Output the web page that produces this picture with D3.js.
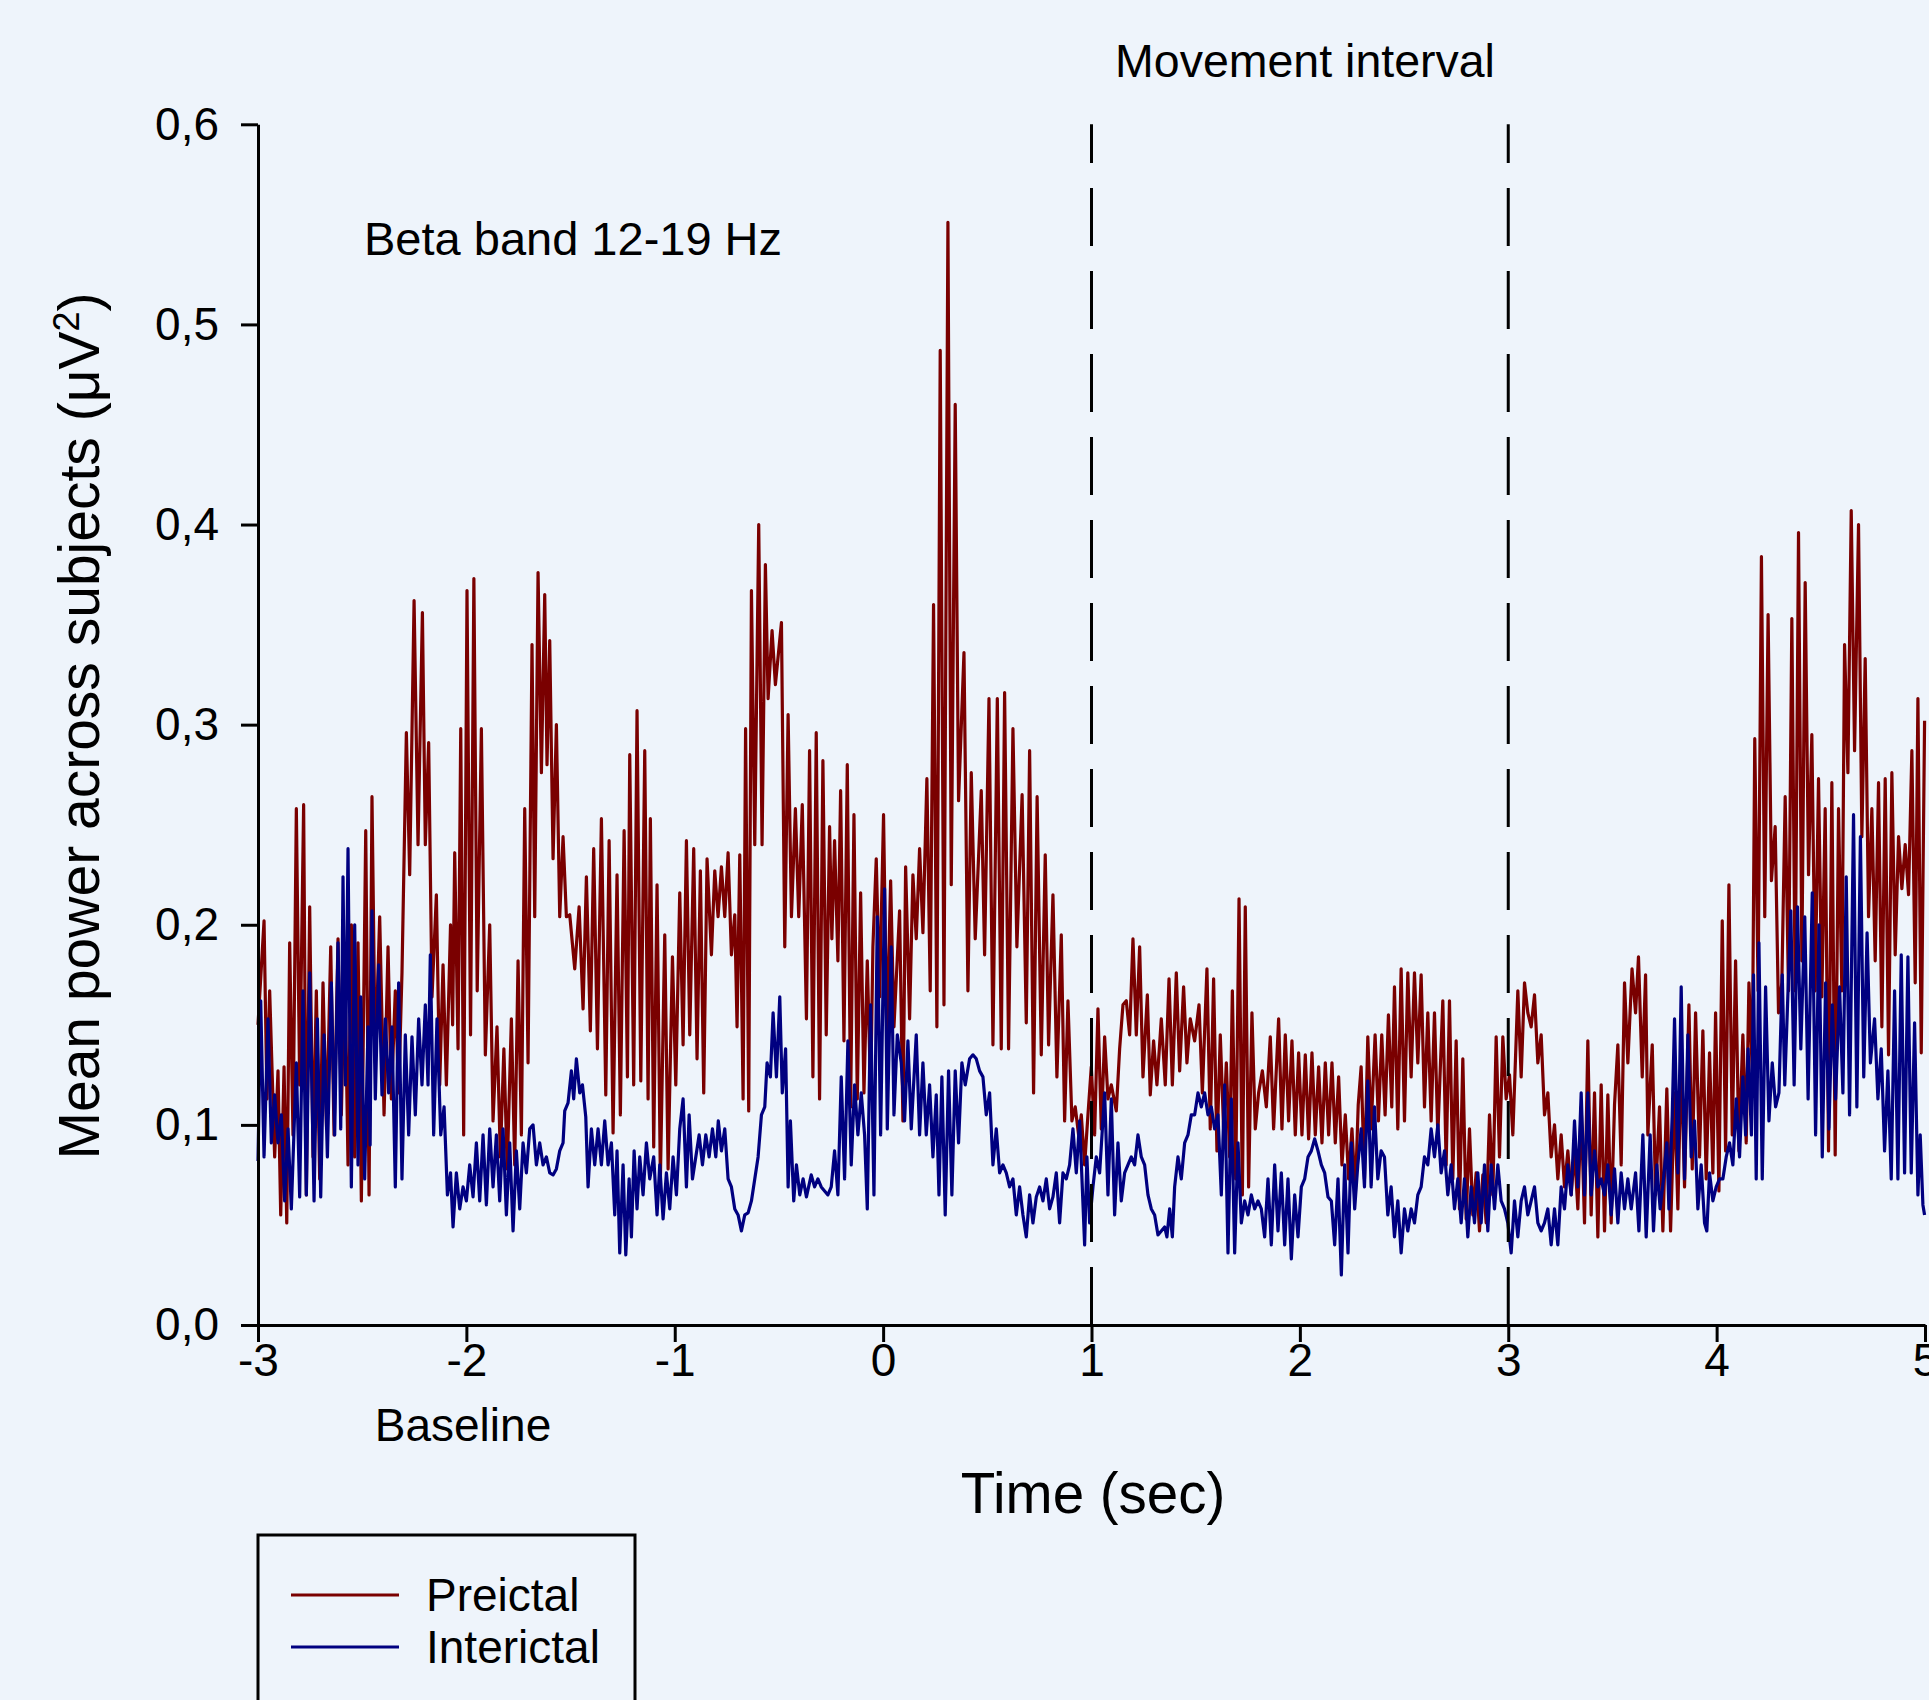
<!DOCTYPE html>
<html><head><meta charset="utf-8">
<script src="https://cdn.jsdelivr.net/npm/d3@7"></script>
<style>
html,body{margin:0;padding:0;background:#eef4fb;}
svg{display:block;}
text{font-family:"Liberation Sans",Arial,sans-serif;fill:#000;}
</style></head><body>
<svg id="chart" width="1929" height="1700"></svg>
<script>
// ---------- data ----------
const xTicks = [-3,-2,-1,0,1,2,3,4,5];
const yTicks = [0,0.1,0.2,0.3,0.4,0.5,0.6];
const movementMarkers = [1,3];
const seriesNames = ["Preictal","Interictal"];
const seriesColors = ["#7a0000","#000080"];

// [time (sec), mean power (µV²)]
const preictal = [
[-3.000,0.150],[-2.971,0.202],[-2.957,0.113],[-2.944,0.167],[-2.920,0.084],[-2.904,0.127],[-2.891,0.055],[-2.875,0.129],[-2.862,0.051],[-2.848,0.191],
[-2.832,0.095],[-2.816,0.258],[-2.800,0.120],[-2.781,0.260],[-2.768,0.065],[-2.752,0.209],[-2.736,0.084],[-2.720,0.167],[-2.704,0.073],[-2.688,0.171],
[-2.671,0.098],[-2.651,0.189],[-2.635,0.095],[-2.616,0.193],[-2.600,0.105],[-2.584,0.185],[-2.568,0.080],[-2.552,0.200],[-2.536,0.084],[-2.520,0.191],
[-2.504,0.062],[-2.483,0.247],[-2.467,0.065],[-2.453,0.264],[-2.437,0.131],[-2.416,0.204],[-2.395,0.105],[-2.376,0.189],[-2.360,0.113],[-2.341,0.167],
[-2.325,0.116],[-2.309,0.176],[-2.288,0.296],[-2.272,0.225],[-2.251,0.362],[-2.232,0.240],[-2.211,0.356],[-2.197,0.240],[-2.181,0.291],[-2.165,0.164],
[-2.144,0.215],[-2.128,0.120],[-2.112,0.180],[-2.096,0.120],[-2.076,0.200],[-2.066,0.150],[-2.056,0.236],[-2.040,0.138],[-2.027,0.298],[-2.013,0.095],
[-1.997,0.367],[-1.980,0.145],[-1.964,0.373],[-1.948,0.167],[-1.928,0.298],[-1.909,0.135],[-1.888,0.200],[-1.872,0.102],[-1.853,0.149],[-1.837,0.084],
[-1.820,0.138],[-1.804,0.078],[-1.784,0.153],[-1.768,0.080],[-1.752,0.182],[-1.736,0.095],[-1.720,0.258],[-1.704,0.131],[-1.685,0.340],[-1.672,0.204],
[-1.656,0.376],[-1.640,0.276],[-1.624,0.365],[-1.613,0.280],[-1.600,0.342],[-1.584,0.233],[-1.568,0.300],[-1.552,0.204],[-1.536,0.244],[-1.520,0.204],
[-1.504,0.205],[-1.480,0.178],[-1.459,0.209],[-1.440,0.158],[-1.424,0.224],[-1.405,0.147],[-1.389,0.238],[-1.371,0.138],[-1.352,0.253],[-1.331,0.115],
[-1.315,0.242],[-1.296,0.096],[-1.277,0.225],[-1.261,0.105],[-1.243,0.247],[-1.227,0.124],[-1.216,0.285],[-1.197,0.120],[-1.181,0.307],[-1.163,0.122],
[-1.144,0.287],[-1.128,0.113],[-1.117,0.253],[-1.101,0.089],[-1.085,0.220],[-1.069,0.073],[-1.048,0.195],[-1.032,0.078],[-1.011,0.184],[-0.995,0.120],
[-0.976,0.216],[-0.960,0.140],[-0.944,0.242],[-0.928,0.145],[-0.909,0.238],[-0.893,0.133],[-0.877,0.227],[-0.861,0.116],[-0.845,0.233],[-0.824,0.185],
[-0.808,0.227],[-0.792,0.204],[-0.776,0.229],[-0.760,0.204],[-0.744,0.236],[-0.728,0.185],[-0.712,0.205],[-0.701,0.149],[-0.688,0.235],[-0.672,0.113],
[-0.660,0.298],[-0.645,0.107],[-0.632,0.367],[-0.616,0.240],[-0.597,0.400],[-0.581,0.240],[-0.565,0.380],[-0.552,0.313],[-0.533,0.347],[-0.517,0.320],
[-0.488,0.351],[-0.472,0.189],[-0.456,0.305],[-0.440,0.204],[-0.421,0.258],[-0.405,0.204],[-0.388,0.260],[-0.368,0.153],[-0.353,0.287],[-0.337,0.124],
[-0.321,0.296],[-0.305,0.113],[-0.289,0.282],[-0.273,0.145],[-0.257,0.249],[-0.246,0.193],[-0.233,0.242],[-0.217,0.182],[-0.204,0.267],[-0.188,0.142],
[-0.172,0.280],[-0.156,0.109],[-0.140,0.255],[-0.124,0.113],[-0.108,0.216],[-0.092,0.116],[-0.076,0.182],[-0.060,0.116],[-0.049,0.189],[-0.033,0.233],
[-0.017,0.164],[0.002,0.255],[0.018,0.142],[0.036,0.222],[0.052,0.149],[0.079,0.207],[0.095,0.102],[0.108,0.229],[0.127,0.153],[0.143,0.225],
[0.159,0.193],[0.175,0.238],[0.191,0.196],[0.210,0.273],[0.226,0.167],[0.242,0.360],[0.258,0.149],[0.274,0.487],[0.292,0.160],[0.311,0.551],
[0.327,0.220],[0.346,0.460],[0.362,0.262],[0.388,0.336],[0.407,0.167],[0.423,0.276],[0.442,0.193],[0.471,0.267],[0.487,0.185],[0.508,0.313],
[0.527,0.140],[0.548,0.313],[0.567,0.138],[0.583,0.316],[0.602,0.138],[0.623,0.298],[0.642,0.189],[0.667,0.265],[0.687,0.151],[0.703,0.287],
[0.722,0.116],[0.739,0.264],[0.759,0.135],[0.778,0.235],[0.794,0.140],[0.815,0.215],[0.834,0.124],[0.855,0.195],[0.871,0.102],[0.887,0.162],
[0.906,0.102],[0.922,0.109],[0.938,0.095],[0.951,0.105],[0.967,0.080],[0.983,0.105],[0.999,0.129],[1.015,0.095],[1.031,0.158],[1.047,0.098],
[1.063,0.144],[1.079,0.113],[1.095,0.120],[1.119,0.107],[1.135,0.138],[1.151,0.160],[1.167,0.162],[1.183,0.145],[1.199,0.193],[1.215,0.145],
[1.231,0.189],[1.247,0.124],[1.268,0.165],[1.282,0.115],[1.298,0.142],[1.314,0.120],[1.335,0.153],[1.354,0.120],[1.372,0.173],[1.388,0.120],
[1.407,0.176],[1.423,0.127],[1.442,0.169],[1.458,0.131],[1.474,0.153],[1.495,0.142],[1.516,0.160],[1.532,0.116],[1.554,0.178],[1.570,0.098],
[1.586,0.173],[1.602,0.087],[1.618,0.145],[1.634,0.098],[1.647,0.131],[1.663,0.084],[1.676,0.167],[1.692,0.073],[1.708,0.213],[1.724,0.065],
[1.738,0.209],[1.754,0.069],[1.770,0.156],[1.786,0.098],[1.802,0.116],[1.820,0.127],[1.839,0.109],[1.858,0.144],[1.874,0.098],[1.898,0.153],
[1.914,0.098],[1.930,0.145],[1.946,0.102],[1.962,0.142],[1.978,0.095],[1.994,0.136],[2.010,0.095],[2.026,0.135],[2.042,0.093],[2.058,0.136],
[2.074,0.095],[2.090,0.129],[2.106,0.091],[2.122,0.131],[2.138,0.095],[2.154,0.131],[2.170,0.091],[2.186,0.124],[2.202,0.080],[2.218,0.105],
[2.234,0.073],[2.250,0.098],[2.266,0.065],[2.280,0.110],[2.294,0.129],[2.310,0.073],[2.326,0.144],[2.342,0.098],[2.361,0.145],[2.377,0.102],
[2.393,0.145],[2.409,0.105],[2.425,0.155],[2.441,0.109],[2.454,0.169],[2.470,0.098],[2.486,0.178],[2.502,0.102],[2.518,0.176],[2.534,0.124],
[2.550,0.176],[2.566,0.131],[2.582,0.175],[2.598,0.109],[2.614,0.156],[2.630,0.102],[2.646,0.156],[2.662,0.095],[2.686,0.162],[2.702,0.080],
[2.718,0.162],[2.734,0.073],[2.750,0.142],[2.766,0.058],[2.782,0.133],[2.798,0.053],[2.814,0.098],[2.830,0.055],[2.846,0.076],[2.862,0.047],
[2.878,0.075],[2.894,0.051],[2.910,0.105],[2.926,0.065],[2.942,0.144],[2.958,0.084],[2.974,0.144],[2.990,0.113],[3.006,0.125],[3.022,0.095],
[3.046,0.167],[3.062,0.124],[3.078,0.171],[3.094,0.156],[3.110,0.149],[3.126,0.165],[3.142,0.131],[3.158,0.145],[3.174,0.105],[3.190,0.116],
[3.206,0.084],[3.222,0.100],[3.238,0.073],[3.254,0.095],[3.270,0.069],[3.286,0.087],[3.302,0.065],[3.318,0.087],[3.334,0.058],[3.350,0.109],
[3.366,0.051],[3.382,0.142],[3.398,0.055],[3.414,0.116],[3.430,0.044],[3.446,0.120],[3.462,0.047],[3.478,0.115],[3.494,0.051],[3.510,0.110],
[3.526,0.140],[3.542,0.080],[3.558,0.171],[3.574,0.131],[3.594,0.178],[3.611,0.156],[3.625,0.184],[3.643,0.124],[3.659,0.175],[3.670,0.095],
[3.691,0.140],[3.707,0.065],[3.726,0.109],[3.742,0.047],[3.761,0.118],[3.779,0.047],[3.798,0.116],[3.814,0.058],[3.830,0.135],[3.846,0.069],
[3.867,0.160],[3.883,0.078],[3.899,0.156],[3.918,0.084],[3.934,0.147],[3.950,0.073],[3.966,0.136],[3.982,0.076],[3.995,0.156],[4.011,0.067],
[4.027,0.202],[4.043,0.087],[4.059,0.220],[4.075,0.095],[4.091,0.182],[4.107,0.087],[4.126,0.145],[4.142,0.091],[4.155,0.171],[4.171,0.127],
[4.183,0.293],[4.199,0.167],[4.215,0.384],[4.231,0.204],[4.247,0.355],[4.263,0.222],[4.281,0.249],[4.297,0.156],[4.313,0.171],[4.329,0.264],
[4.345,0.167],[4.361,0.353],[4.377,0.167],[4.393,0.396],[4.409,0.182],[4.425,0.371],[4.441,0.225],[4.457,0.295],[4.473,0.167],[4.489,0.273],
[4.505,0.164],[4.521,0.258],[4.537,0.087],[4.553,0.271],[4.569,0.085],[4.585,0.258],[4.601,0.167],[4.614,0.340],[4.630,0.276],[4.646,0.407],
[4.662,0.287],[4.681,0.400],[4.697,0.244],[4.713,0.333],[4.729,0.204],[4.745,0.258],[4.761,0.182],[4.777,0.271],[4.793,0.149],[4.809,0.273],
[4.825,0.135],[4.841,0.276],[4.857,0.185],[4.873,0.244],[4.889,0.218],[4.905,0.240],[4.921,0.215],[4.937,0.287],[4.953,0.171],[4.966,0.313],
[4.982,0.136],[4.998,0.302]
];

const interictal = [
[-3.000,0.082],[-2.987,0.162],[-2.971,0.084],[-2.952,0.153],[-2.936,0.091],[-2.920,0.115],[-2.904,0.091],[-2.888,0.105],[-2.872,0.062],[-2.856,0.098],
[-2.840,0.058],[-2.816,0.131],[-2.800,0.064],[-2.784,0.167],[-2.768,0.065],[-2.752,0.176],[-2.731,0.062],[-2.715,0.153],[-2.699,0.064],[-2.683,0.145],
[-2.667,0.084],[-2.648,0.171],[-2.632,0.095],[-2.616,0.191],[-2.603,0.098],[-2.592,0.224],[-2.581,0.120],[-2.568,0.238],[-2.552,0.069],[-2.536,0.200],
[-2.520,0.080],[-2.507,0.164],[-2.488,0.073],[-2.472,0.149],[-2.462,0.090],[-2.453,0.207],[-2.437,0.113],[-2.421,0.180],[-2.405,0.115],[-2.389,0.153],
[-2.373,0.116],[-2.357,0.149],[-2.341,0.069],[-2.325,0.171],[-2.309,0.073],[-2.293,0.145],[-2.277,0.095],[-2.261,0.144],[-2.245,0.105],[-2.229,0.153],
[-2.213,0.120],[-2.197,0.160],[-2.184,0.120],[-2.173,0.185],[-2.157,0.095],[-2.141,0.153],[-2.123,0.095],[-2.107,0.109],[-2.091,0.065],[-2.076,0.076],
[-2.064,0.049],[-2.048,0.076],[-2.032,0.058],[-2.016,0.069],[-2.000,0.062],[-1.984,0.080],[-1.968,0.064],[-1.952,0.091],[-1.936,0.062],[-1.920,0.095],
[-1.904,0.060],[-1.888,0.098],[-1.872,0.069],[-1.856,0.095],[-1.840,0.062],[-1.824,0.098],[-1.808,0.055],[-1.792,0.091],[-1.776,0.047],[-1.760,0.087],
[-1.744,0.058],[-1.728,0.091],[-1.712,0.076],[-1.696,0.098],[-1.680,0.100],[-1.664,0.080],[-1.648,0.091],[-1.632,0.080],[-1.616,0.084],[-1.600,0.076],
[-1.584,0.075],[-1.568,0.078],[-1.552,0.087],[-1.536,0.091],[-1.528,0.107],[-1.512,0.111],[-1.496,0.127],[-1.485,0.113],[-1.472,0.133],[-1.456,0.116],
[-1.443,0.120],[-1.427,0.104],[-1.416,0.069],[-1.400,0.098],[-1.384,0.080],[-1.368,0.098],[-1.352,0.080],[-1.336,0.102],[-1.320,0.080],[-1.304,0.091],
[-1.288,0.055],[-1.277,0.087],[-1.264,0.036],[-1.248,0.080],[-1.235,0.035],[-1.219,0.073],[-1.208,0.044],[-1.195,0.087],[-1.181,0.058],[-1.168,0.084],
[-1.152,0.065],[-1.136,0.091],[-1.120,0.073],[-1.101,0.084],[-1.085,0.055],[-1.072,0.080],[-1.056,0.053],[-1.040,0.076],[-1.024,0.058],[-1.008,0.084],
[-0.992,0.065],[-0.976,0.098],[-0.960,0.113],[-0.944,0.069],[-0.931,0.105],[-0.915,0.073],[-0.899,0.084],[-0.883,0.095],[-0.867,0.080],[-0.851,0.095],
[-0.835,0.084],[-0.819,0.098],[-0.803,0.084],[-0.791,0.102],[-0.776,0.087],[-0.760,0.098],[-0.744,0.073],[-0.728,0.069],[-0.712,0.058],[-0.696,0.055],
[-0.680,0.047],[-0.664,0.055],[-0.648,0.056],[-0.632,0.062],[-0.616,0.073],[-0.600,0.084],[-0.584,0.105],[-0.568,0.109],[-0.557,0.131],[-0.541,0.124],
[-0.528,0.156],[-0.512,0.124],[-0.496,0.164],[-0.484,0.116],[-0.468,0.138],[-0.456,0.069],[-0.445,0.102],[-0.429,0.062],[-0.416,0.080],[-0.400,0.065],
[-0.384,0.073],[-0.368,0.064],[-0.345,0.075],[-0.329,0.069],[-0.313,0.073],[-0.297,0.069],[-0.281,0.067],[-0.265,0.065],[-0.249,0.069],[-0.233,0.087],
[-0.217,0.065],[-0.201,0.124],[-0.185,0.073],[-0.169,0.142],[-0.153,0.080],[-0.137,0.120],[-0.121,0.095],[-0.105,0.116],[-0.089,0.095],[-0.076,0.058],
[-0.060,0.160],[-0.044,0.065],[-0.028,0.204],[-0.012,0.095],[0.007,0.218],[0.020,0.098],[0.039,0.189],[0.052,0.105],[0.068,0.145],[0.087,0.131],
[0.103,0.102],[0.119,0.142],[0.135,0.098],[0.159,0.145],[0.175,0.095],[0.191,0.131],[0.207,0.095],[0.223,0.120],[0.239,0.084],[0.255,0.115],
[0.268,0.065],[0.282,0.124],[0.298,0.055],[0.314,0.127],[0.330,0.065],[0.346,0.127],[0.362,0.091],[0.378,0.131],[0.394,0.120],[0.415,0.133],
[0.431,0.135],[0.447,0.133],[0.463,0.127],[0.479,0.124],[0.495,0.105],[0.511,0.116],[0.527,0.080],[0.543,0.098],[0.559,0.076],[0.575,0.080],
[0.591,0.076],[0.607,0.069],[0.623,0.073],[0.639,0.055],[0.655,0.069],[0.671,0.055],[0.687,0.044],[0.703,0.065],[0.719,0.051],[0.735,0.064],
[0.751,0.069],[0.767,0.062],[0.783,0.073],[0.799,0.058],[0.815,0.064],[0.831,0.076],[0.847,0.051],[0.863,0.076],[0.879,0.073],[0.895,0.080],
[0.911,0.098],[0.927,0.076],[0.943,0.102],[0.967,0.040],[0.978,0.084],[0.991,0.051],[1.007,0.069],[1.023,0.084],[1.039,0.076],[1.063,0.116],
[1.079,0.065],[1.095,0.113],[1.111,0.055],[1.127,0.091],[1.143,0.062],[1.159,0.076],[1.175,0.080],[1.191,0.084],[1.207,0.080],[1.223,0.095],
[1.239,0.084],[1.255,0.080],[1.271,0.065],[1.287,0.058],[1.303,0.055],[1.319,0.045],[1.335,0.047],[1.351,0.049],[1.362,0.044],[1.375,0.058],
[1.388,0.044],[1.399,0.069],[1.415,0.084],[1.431,0.073],[1.447,0.091],[1.463,0.095],[1.479,0.105],[1.495,0.105],[1.511,0.116],[1.527,0.109],
[1.543,0.116],[1.559,0.105],[1.575,0.109],[1.591,0.098],[1.607,0.105],[1.623,0.065],[1.639,0.120],[1.655,0.036],[1.671,0.113],[1.687,0.036],
[1.703,0.091],[1.719,0.051],[1.735,0.062],[1.751,0.055],[1.767,0.065],[1.783,0.058],[1.799,0.062],[1.815,0.058],[1.831,0.044],[1.847,0.073],
[1.863,0.040],[1.879,0.080],[1.895,0.047],[1.911,0.076],[1.927,0.040],[1.943,0.073],[1.959,0.033],[1.975,0.065],[1.991,0.044],[2.007,0.069],
[2.023,0.073],[2.039,0.084],[2.055,0.087],[2.071,0.093],[2.087,0.087],[2.103,0.080],[2.119,0.076],[2.135,0.064],[2.151,0.062],[2.167,0.040],
[2.183,0.073],[2.199,0.025],[2.215,0.080],[2.231,0.036],[2.247,0.091],[2.263,0.058],[2.278,0.080],[2.294,0.098],[2.310,0.069],[2.326,0.122],
[2.342,0.069],[2.358,0.109],[2.374,0.073],[2.390,0.087],[2.406,0.084],[2.422,0.055],[2.438,0.069],[2.454,0.044],[2.470,0.062],[2.486,0.036],
[2.502,0.058],[2.518,0.047],[2.534,0.058],[2.550,0.051],[2.566,0.065],[2.582,0.069],[2.598,0.084],[2.614,0.080],[2.630,0.098],[2.646,0.084],
[2.662,0.100],[2.678,0.076],[2.694,0.087],[2.710,0.065],[2.726,0.080],[2.742,0.058],[2.758,0.073],[2.774,0.051],[2.790,0.073],[2.806,0.044],
[2.822,0.069],[2.838,0.051],[2.854,0.076],[2.870,0.051],[2.886,0.080],[2.902,0.047],[2.918,0.080],[2.934,0.058],[2.950,0.080],[2.966,0.062],
[2.982,0.058],[2.998,0.051],[3.014,0.036],[3.030,0.062],[3.046,0.044],[3.062,0.062],[3.078,0.069],[3.094,0.055],[3.110,0.062],[3.126,0.069],
[3.142,0.051],[3.158,0.047],[3.174,0.051],[3.190,0.058],[3.206,0.040],[3.222,0.058],[3.238,0.040],[3.254,0.069],[3.270,0.058],[3.286,0.080],
[3.302,0.065],[3.318,0.102],[3.334,0.069],[3.350,0.116],[3.366,0.065],[3.382,0.116],[3.398,0.065],[3.414,0.087],[3.430,0.069],[3.446,0.073],
[3.462,0.065],[3.478,0.080],[3.494,0.055],[3.510,0.078],[3.526,0.051],[3.542,0.076],[3.558,0.058],[3.574,0.073],[3.590,0.058],[3.611,0.076],
[3.627,0.047],[3.646,0.095],[3.662,0.044],[3.681,0.095],[3.697,0.047],[3.713,0.080],[3.729,0.058],[3.745,0.073],[3.761,0.091],[3.771,0.058],
[3.787,0.105],[3.798,0.153],[3.814,0.076],[3.830,0.169],[3.846,0.073],[3.862,0.145],[3.878,0.084],[3.894,0.102],[3.910,0.058],[3.926,0.080],
[3.942,0.051],[3.953,0.047],[3.966,0.076],[3.982,0.062],[3.998,0.069],[4.014,0.073],[4.030,0.073],[4.046,0.084],[4.062,0.091],[4.078,0.080],
[4.094,0.113],[4.110,0.084],[4.126,0.124],[4.139,0.095],[4.151,0.138],[4.167,0.095],[4.177,0.175],[4.190,0.073],[4.203,0.191],[4.219,0.073],
[4.235,0.169],[4.251,0.102],[4.267,0.131],[4.283,0.109],[4.299,0.116],[4.315,0.175],[4.327,0.120],[4.356,0.207],[4.372,0.120],[4.388,0.209],
[4.404,0.138],[4.423,0.204],[4.439,0.113],[4.459,0.216],[4.475,0.095],[4.491,0.200],[4.507,0.084],[4.523,0.171],[4.539,0.098],[4.555,0.160],
[4.571,0.113],[4.590,0.169],[4.606,0.116],[4.622,0.224],[4.638,0.105],[4.657,0.255],[4.673,0.109],[4.690,0.244],[4.706,0.124],[4.722,0.196],
[4.738,0.131],[4.758,0.153],[4.774,0.113],[4.790,0.138],[4.806,0.087],[4.822,0.127],[4.838,0.073],[4.854,0.167],[4.870,0.073],[4.886,0.185],
[4.902,0.076],[4.918,0.184],[4.934,0.076],[4.950,0.151],[4.966,0.065],[4.977,0.095],[4.990,0.060],[4.998,0.055]
];

// ---------- drawing ----------
const svg = d3.select("#chart");
const x = d3.scaleLinear().domain([-3,5]).range([258,1925]);
const y = d3.scaleLinear().domain([0,0.6]).range([1325,124.3]);

const fmtY = d => d3.format(".1f")(d).replace(".", ",");
const fmtX = d => String(d);

// series lines (preictal first, interictal on top)
const line = d3.line().x(d => x(d[0])).y(d => y(d[1]));
[preictal, interictal].forEach((s, i) => {
  svg.append("path").datum(s)
    .attr("d", line)
    .attr("fill", "none")
    .attr("stroke", seriesColors[i])
    .attr("stroke-width", 3.2)
    .attr("stroke-linejoin", "round");
});

// dashed movement-interval markers (drawn from bottom to top)
svg.selectAll(".marker").data(movementMarkers).enter().append("line")
  .attr("class", "marker")
  .attr("x1", d => x(d)).attr("x2", d => x(d))
  .attr("y1", y(0)).attr("y2", y(0.6))
  .attr("stroke", "#000").attr("stroke-width", 3)
  .attr("stroke-dasharray", "58,25");

// axes
const xAxis = d3.axisBottom(x).tickValues(xTicks).tickFormat(fmtX)
  .tickSize(17).tickSizeOuter(0).tickPadding(1);
const yAxis = d3.axisLeft(y).tickValues(yTicks).tickFormat(fmtY)
  .tickSize(17).tickSizeOuter(0).tickPadding(22);

const gx = svg.append("g").attr("transform", `translate(0,${y(0)})`).call(xAxis);
const gy = svg.append("g").attr("transform", `translate(${x(-3)},0)`).call(yAxis);
[gx, gy].forEach(g => {
  g.select(".domain").attr("stroke", "#000").attr("stroke-width", 3);
  g.selectAll(".tick line").attr("stroke", "#000").attr("stroke-width", 3);
  g.selectAll(".tick text").attr("fill", "#000")
    .style("font-family", '"Liberation Sans", Arial, sans-serif')
    .style("font-size", "46px");
});

// annotations
const txt = (t, xx, yy, size, anchor) => svg.append("text")
  .attr("x", xx).attr("y", yy).attr("text-anchor", anchor)
  .style("font-size", size + "px").text(t);

txt("Movement interval", 1305, 77, 46.5, "middle");
txt("Beta band 12-19 Hz", 364, 255, 47, "start");
txt("Baseline", 463, 1441, 46, "middle");
txt("Time (sec)", 1093, 1513, 56.5, "middle");

// y-axis title with superscript
const yt = svg.append("text")
  .attr("transform", "translate(99,726) rotate(-90)")
  .attr("text-anchor", "middle")
  .style("font-size", "57px");
yt.append("tspan").text("Mean power across subjects (\u03BCV");
yt.append("tspan").attr("dy", -20).style("font-size", "36px").text("2");
yt.append("tspan").attr("dy", 20).text(")");

// legend
svg.append("rect").attr("x", 258).attr("y", 1535).attr("width", 377).attr("height", 250)
  .attr("fill", "none").attr("stroke", "#000").attr("stroke-width", 3);
const legendY = [1595, 1647];
seriesNames.forEach((n, i) => {
  svg.append("line").attr("x1", 291).attr("x2", 399)
    .attr("y1", legendY[i]).attr("y2", legendY[i])
    .attr("stroke", seriesColors[i]).attr("stroke-width", 3);
  txt(n, 426, legendY[i] + 16, 46, "start");
});
</script>
</body></html>
